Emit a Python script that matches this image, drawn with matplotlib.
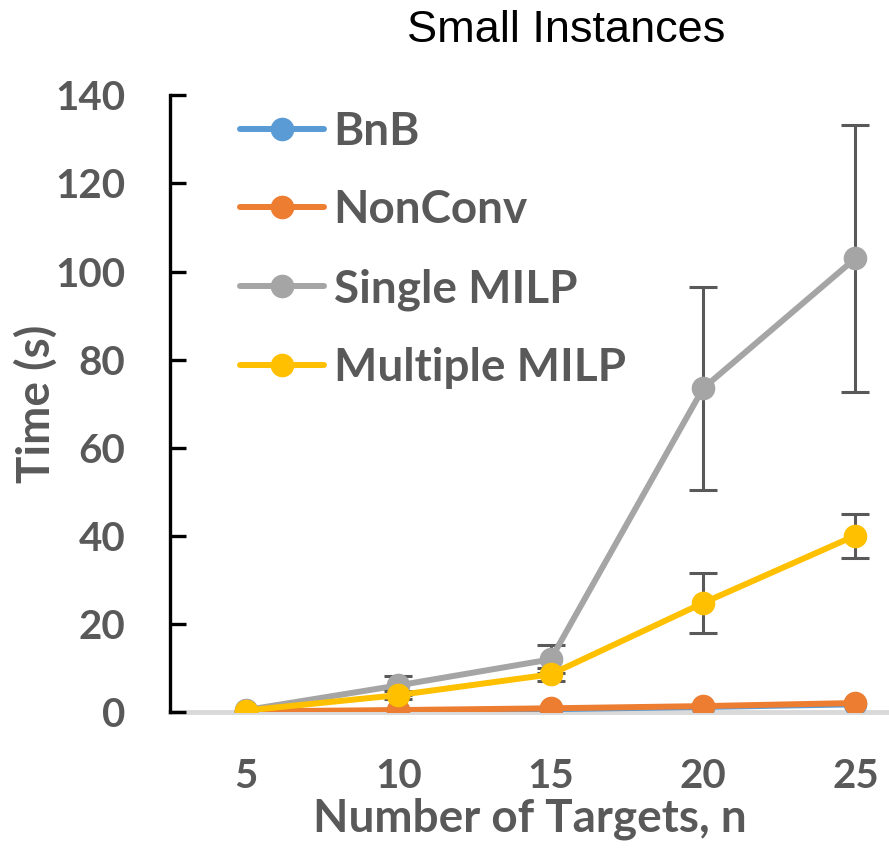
import numpy as np
import matplotlib
matplotlib.use('Agg')
import matplotlib.pyplot as plt

# data
targets = ['5', '10', '15', '20', '25']
bnb = [0.1, 0.35, 0.7, 1.2, 1.8]
nonconv = [0.2, 0.5, 0.9, 1.4, 2.1]
single_milp = [0.5, 6.1, 12.0, 73.5, 103.0]
single_err = [0.2, 2.1, 3.2, 23.0, 30.3]
multi_milp = [0.4, 3.9, 8.6, 24.8, 40.1]
multi_err = [0.1, 1.0, 1.5, 6.8, 5.0]

plt.rcParams['font.family'] = ['Lato', 'DejaVu Sans']
txt_col = '#595959'

fig = plt.figure(figsize=(8.89, 8.52), dpi=100)
ax = fig.add_axes([0.191, 0.164, 0.809, 0.7242])

x = np.arange(1, len(targets) + 1)
line_kw = dict(lw=4.3, marker='o', ms=16, solid_capstyle='round')
err_kw = dict(fmt='none', ecolor=txt_col, elinewidth=2.2, capsize=10, capthick=2.2)

ax.plot(x, bnb, color='#5B9BD5', label='BnB', **line_kw)
ax.plot(x, nonconv, color='#ED7D31', label='NonConv', **line_kw)
ax.errorbar(x[1:], single_milp[1:], yerr=single_err[1:], zorder=3, **err_kw)
ax.plot(x, single_milp, color='#A5A5A5', label='Single MILP', zorder=4, **line_kw)
ax.errorbar(x[1:], multi_milp[1:], yerr=multi_err[1:], zorder=5, **err_kw)
ax.plot(x, multi_milp, color='#FFC000', label='Multiple MILP', zorder=6, **line_kw)

ax.set_xlim(0.5, 5.22)
ax.set_ylim(0, 140)
ax.set_yticks(np.arange(0, 141, 20))
ax.set_xticks(x)
ax.set_xticklabels(targets)

for s in ['top', 'right']:
    ax.spines[s].set_visible(False)
ax.spines['left'].set_linewidth(2.4)
ax.spines['left'].set_color('black')
ax.spines['bottom'].set_color('#D9D9D9')
ax.spines['bottom'].set_linewidth(3.5)
ax.spines['bottom'].set_zorder(1)

ax.tick_params(axis='y', direction='in', length=11.5, width=2.4, color='black',
               labelsize=29, labelcolor=txt_col, pad=32)
ax.tick_params(axis='x', length=0, labelsize=29, labelcolor=txt_col, pad=33)
for lab in ax.get_xticklabels() + ax.get_yticklabels():
    lab.set_fontweight('bold')

ax.set_xlabel('Number of Targets, n', fontsize=33, fontweight='bold', color=txt_col, labelpad=2)
ax.set_ylabel('Time (s)', fontsize=33, fontweight='bold', color=txt_col, labelpad=-2)
fig.text(0.637, 0.964, 'Small Instances', ha='center', va='center', fontsize=32.5,
         color='black', family='Liberation Sans')

leg = ax.legend(loc='upper left', bbox_to_anchor=(0.097, 0.975), frameon=False,
                prop={'size': 33, 'weight': 'bold'}, handlelength=1.85,
                labelspacing=0.8, handletextpad=0.2, borderpad=0, borderaxespad=0)
for t in leg.get_texts():
    t.set_color(txt_col)

fig.savefig('out.png', dpi=100)
